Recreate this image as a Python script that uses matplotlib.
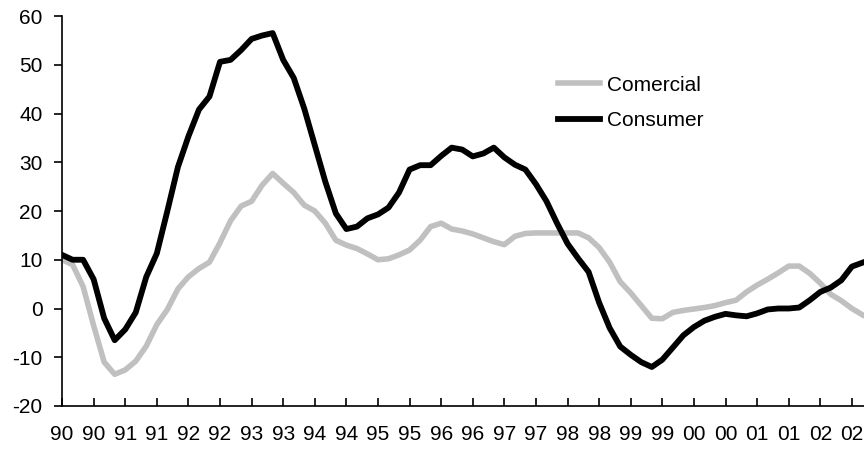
import numpy as np
import matplotlib
matplotlib.use("Agg")
import matplotlib.pyplot as plt

# monthly index from Jan 1990, read every two months
months = np.arange(0, 153, 2)

consumer = [
    11, 10, 10, 6, -2, -6.5, -4.3, -0.8, 6.5, 11.3,
    20, 29, 35.3, 40.8, 43.5, 50.6, 51, 53, 55.3, 56,
    56.5, 51, 47.3, 41, 33.5, 26, 19.5, 16.3, 16.8, 18.5,
    19.3, 20.7, 23.8, 28.5, 29.4, 29.4, 31.3, 33, 32.6, 31.2,
    31.8, 33, 31, 29.5, 28.5, 25.5, 22, 17.5, 13.3, 10.3,
    7.5, 1.2, -4, -7.8, -9.5, -11, -12, -10.5, -8, -5.5,
    -3.8, -2.5, -1.7, -1.1, -1.4, -1.6, -1, -0.2, 0, 0,
    0.2, 1.7, 3.4, 4.3, 5.8, 8.6, 9.4,
]

comercial = [
    10, 9, 4.5, -3.5, -11, -13.5, -12.6, -10.8, -7.7, -3.3,
    -0.2, 4, 6.5, 8.2, 9.5, 13.5, 18, 21, 22, 25.3,
    27.7, 25.7, 23.8, 21.2, 20, 17.5, 14, 13, 12.3, 11.2,
    10, 10.2, 11, 12, 14, 16.8, 17.5, 16.3, 15.9, 15.3,
    14.5, 13.7, 13.1, 14.8, 15.4, 15.5, 15.5, 15.5, 15.5, 15.5,
    14.5, 12.5, 9.5, 5.5, 3.2, 0.6, -2, -2.1, -0.8, -0.4,
    -0.1, 0.2, 0.6, 1.2, 1.7, 3.4, 4.8, 6, 7.3, 8.7,
    8.7, 7.2, 5.2, 2.9, 1.6, 0, -1.3,
]

# two labels per year, 1990 .. 2002
tick_labels = [f"{y % 100:02d}" for y in range(1990, 2003) for _ in range(2)]

plt.rcParams["font.family"] = ["Liberation Sans", "DejaVu Sans"]
plt.rcParams["axes.unicode_minus"] = False

fig = plt.figure(figsize=(8.64, 4.55), dpi=100)
ax = fig.add_axes([0.0718, 0.1077, 0.9282, 0.8571])

ax.plot(months, comercial, color="#c0c0c0", linewidth=4.0, label="Comercial",
        solid_joinstyle="round")
ax.plot(months, consumer, color="black", linewidth=4.2, label="Consumer",
        solid_joinstyle="round")

ax.set_xlim(0, 152.3)
ax.set_ylim(-20, 60)
ax.set_yticks(range(-20, 61, 10))
ax.set_xticks(np.arange(0, 152, 6))
ax.set_xticklabels(tick_labels)

for side in ("top", "right"):
    ax.spines[side].set_visible(False)
for side in ("left", "bottom"):
    ax.spines[side].set_linewidth(1.2)

ax.tick_params(axis="y", direction="out", length=6, width=1.2, pad=8, labelsize=15)
ax.tick_params(axis="x", direction="in", length=6, width=1.2, pad=14, labelsize=15)

ax.legend(loc="upper left", bbox_to_anchor=(0.646, 0.834), bbox_transform=fig.transFigure,
          frameon=False, fontsize=15, handlelength=2.0, handletextpad=0.35,
          labelspacing=0.8, borderpad=0, borderaxespad=0)

fig.savefig("out.png", dpi=100)
